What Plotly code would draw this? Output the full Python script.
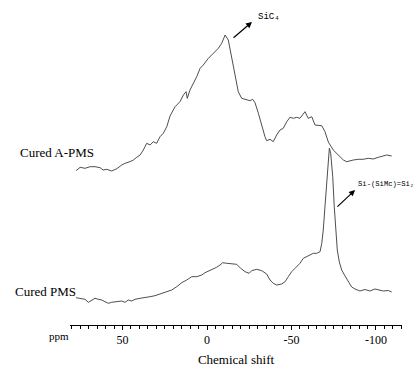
import plotly.graph_objects as go

# ---- data ----
apms_ppm = [77.5, 75.1, 72.2, 69.2, 66.3, 63.3, 61.5, 59.3, 56.4, 53.4, 50.5, 48.5, 45.6, 43.6, 41.6,
            39.6, 37.7, 35.7, 33.7, 31.8, 29.8, 27.8, 25.9, 23.8, 21.9, 18.9, 16.0, 14.0, 12.4, 11.7,
            10.1, 8.1, 6.1, 4.1, 2.2, -0.8, -3.7, -6.7, -8.7, -10.7, -12.6, -14.6, -16.6, -18.5, -20.5,
            -23.5, -25.4, -27.0, -28.4, -30.4, -32.4, -34.3, -35.3, -37.3, -39.2, -41.2, -43.2, -45.1,
            -47.2, -49.1, -51.1, -53.1, -55.0, -58.0, -59.9, -62.0, -63.9, -65.9, -67.9, -69.8, -71.8,
            -74.7, -77.7, -80.7, -82.7, -84.6, -86.6, -89.5, -92.5, -95.4, -98.4, -101.4, -104.3,
            -106.3, -109.3]
apms_int = [1.3, 4.7, 3.7, 5.3, 5.3, 4.3, 2.0, 2.7, 1.0, 3.3, 7.0, 8.7, 10.3, 12.0, 14.7,
            17.0, 22.0, 28.7, 27.0, 30.3, 28.7, 35.3, 38.7, 45.3, 56.0, 65.3, 70.3, 77.0, 80.3, 73.7,
            82.0, 88.7, 95.3, 103.7, 107.0, 113.7, 118.7, 123.7, 128.7, 137.0, 132.0, 115.3, 95.3, 80.3, 73.7,
            72.0, 71.3, 72.7, 69.3, 58.7, 45.3, 35.3, 31.3, 32.7, 30.3, 37.0, 42.0, 43.7,
            50.3, 54.7, 53.7, 54.7, 53.7, 60.3, 53.7, 55.3, 47.0, 47.0, 46.3, 40.3, 30.0,
            22.0, 17.0, 12.0, 10.3, 11.3, 12.0, 12.7, 12.7, 13.7, 13.0, 14.7, 16.0,
            17.0, 16.0]

pms_ppm = [77.5, 75.1, 72.2, 70.2, 68.2, 66.3, 64.3, 62.3, 60.4, 58.4, 56.4, 53.4, 50.5, 48.5, 46.6,
           44.6, 42.6, 39.6, 36.7, 33.7, 30.8, 27.8, 24.9, 22.9, 20.9, 17.9, 15.0, 12.0, 9.1, 6.1,
           3.1, 1.2, -1.8, -3.7, -5.7, -7.7, -9.3, -11.7, -14.6, -17.6, -19.9, -22.5, -24.9, -26.4,
           -29.4, -32.4, -35.3, -37.3, -39.2, -41.2, -44.2, -46.2, -48.1, -50.1, -52.1, -54.0, -55.0,
           -57.0, -59.0, -60.9, -62.9, -64.9, -66.9, -67.9, -68.8, -69.8, -70.8, -71.8, -72.4, -73.2,
           -74.4, -75.3, -76.3, -77.1, -78.3, -79.7, -81.7, -83.6, -85.6, -87.6, -90.5, -93.5, -96.4,
           -99.4, -101.4, -104.3, -107.3, -109.3]
pms_int = [7.3, 6.7, 5.7, 2.7, 5.0, 6.7, 5.7, 5.0, 3.3, 1.7, 2.7, 3.3, 4.0, 2.7, 5.0,
           4.0, 5.7, 6.7, 7.3, 8.3, 9.3, 11.0, 12.3, 13.3, 15.0, 18.3, 22.3, 25.0, 28.3, 28.3,
           30.0, 32.3, 34.3, 35.7, 37.7, 40.0, 42.3, 41.7, 41.0, 40.7, 36.7, 33.3, 31.7, 34.3,
           35.7, 34.3, 31.0, 25.0, 21.7, 20.0, 21.0, 23.3, 28.3, 33.3, 36.7, 40.0, 41.7,
           46.7, 48.3, 50.0, 51.7, 51.7, 53.3, 61.7, 75.0, 98.3, 125.0, 148.3, 156.7, 151.7,
           128.3, 98.3, 71.7, 55.0, 43.0, 35.0, 29.0, 23.0, 18.0, 16.0, 14.0, 15.5, 14.0,
           16.0, 15.0, 14.0, 14.5, 13.0]

series_names = ["Cured A-PMS", "Cured PMS"]
tick_values = [50, 0, -50, -100]
tick_labels = ["50", "0", "-50", "-100"]

# ---- layout constants ----
W, H = 414, 367
ML, MR, MT, MB = 70, 12, 0, 42
PW, PH = W - ML - MR, H - MT - MB
offset_apms = 153
offset_pms = 20

def paper_x(px):
    return (px - ML) / PW

def paper_y(py):
    return (H - MB - py) / PH

line_color = "#3a3a3a"

fig = go.Figure()
fig.add_trace(go.Scatter(x=apms_ppm, y=[v + offset_apms for v in apms_int], mode="lines",
                         line=dict(color=line_color, width=0.9), name=series_names[0],
                         showlegend=False))
fig.add_trace(go.Scatter(x=pms_ppm, y=[v + offset_pms for v in pms_int], mode="lines",
                         line=dict(color=line_color, width=0.9), name=series_names[1],
                         showlegend=False))

serif = "Liberation Serif"
mono = "Liberation Mono"

annotations = [
    # series labels
    dict(text=series_names[0], xref="paper", yref="paper", x=paper_x(18), y=paper_y(152),
         xanchor="left", yanchor="middle", showarrow=False, font=dict(family=serif, size=13, color="black")),
    dict(text=series_names[1], xref="paper", yref="paper", x=paper_x(13), y=paper_y(291),
         xanchor="left", yanchor="middle", showarrow=False, font=dict(family=serif, size=13, color="black")),
    # ppm unit label
    dict(text="ppm", xref="paper", yref="paper", x=paper_x(59), y=paper_y(336),
         xanchor="center", yanchor="middle", showarrow=False, font=dict(family=serif, size=11, color="black")),
    # peak labels
    dict(text="SiC₄", xref="x", yref="y", x=-29.0, y=308, xanchor="left", yanchor="middle",
         showarrow=False, font=dict(family=mono, size=9, color="black")),
    dict(text="Si-(SiMc)=Si₂", xref="paper", yref="paper", x=paper_x(356), y=paper_y(184),
         xanchor="left", yanchor="middle", showarrow=False,
         font=dict(family=mono, size=7.2, color="black")),
    # arrows
    dict(text="", xref="x", yref="y", x=-26.6, y=303, axref="x", ayref="y", ax=-14.8, ay=286,
         showarrow=True, arrowhead=2, arrowsize=1, arrowwidth=1.2, arrowcolor="black"),
    dict(text="", xref="x", yref="y", x=-87.6, y=135, axref="x", ayref="y", ax=-76.3, ay=117,
         showarrow=True, arrowhead=2, arrowsize=1, arrowwidth=1.2, arrowcolor="black"),
]

fig.update_layout(
    width=W, height=H,
    margin=dict(l=ML, r=MR, t=MT, b=MB),
    paper_bgcolor="white", plot_bgcolor="white",
    showlegend=False,
    annotations=annotations,
    xaxis=dict(
        range=[81.1, -115.4],
        showline=True, linecolor="black", linewidth=1,
        showgrid=False, zeroline=False,
        ticks="outside", ticklen=4, tickcolor="black", tickwidth=1,
        tickvals=tick_values, ticktext=tick_labels,
        tickfont=dict(family=serif, size=12, color="black"),
        minor=dict(dtick=5, tick0=0, ticks="outside", ticklen=3, tickcolor="black", tickwidth=1, showgrid=False),
        title=dict(text="Chemical shift", font=dict(family=serif, size=13, color="black"), standoff=9),
        fixedrange=True,
    ),
    yaxis=dict(range=[0, PH], visible=False, fixedrange=True),
)

fig.write_html("out.html", config={"displayModeBar": False, "staticPlot": True},
               post_script="document.body.style.margin='0';document.body.style.overflow='hidden';")
